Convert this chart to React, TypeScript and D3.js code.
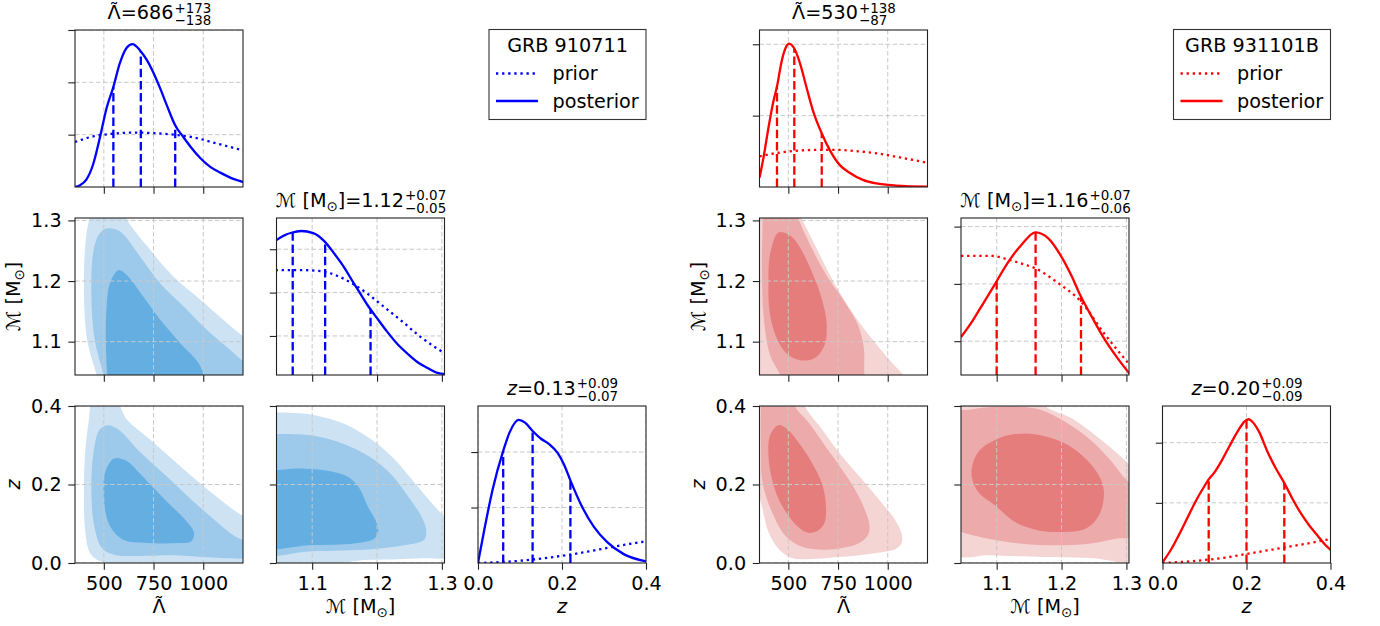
import { useEffect, useRef } from "react";
import * as d3 from "d3";

type Pt = [number, number];

// axes
const lambdaTicks = [500, 750, 1000];
const mcTicks = [1.1, 1.2, 1.3];
const zTicks = [0.0, 0.2, 0.4];
const lambdaRange: Pt = [355, 1200];
const mcRange: Pt = [1.045, 1.304];
const zRange: Pt = [0, 0.4];

// ---------- GRB 910711 (blue) ----------
const blueLambdaPost: Pt[] = [
  [353, 0], [378, 0.03], [412, 0.14], [446, 0.43], [480, 0.94], [514, 1.51], [547, 1.9],
  [581, 2.37], [615, 2.66], [644, 2.73], [682, 2.61], [716, 2.43], [750, 2.18], [784, 1.88],
  [818, 1.55], [860, 1.17], [899, 0.96], [936, 0.77], [986, 0.55], [1037, 0.38], [1088, 0.27],
  [1155, 0.15], [1206, 0.09],
];
const blueLambdaPrior: Pt[] = [
  [355, 0.86], [450, 0.97], [550, 1.02], [650, 1.04], [750, 1.03], [850, 1.0], [950, 0.95],
  [1050, 0.85], [1200, 0.7],
];
const blueLambdaQ = [548, 686, 859];
const blueLambdaYTicks = [1, 2, 3];
const blueLambdaYMax = 3.0;
const blueLambdaTitle = ["686", "+173", "\u2212138"];

const blueMcPost: Pt[] = [
  [1.0435, 3.1], [1.06, 3.24], [1.068, 3.28], [1.083, 3.32], [1.1016, 3.27], [1.119, 3.08],
  [1.133, 2.82], [1.148, 2.51], [1.164, 2.12], [1.174, 1.88], [1.185, 1.62], [1.2, 1.31],
  [1.2155, 1.0], [1.231, 0.72], [1.247, 0.49], [1.262, 0.3], [1.278, 0.16], [1.293, 0.05],
  [1.305, 0.02],
];
const blueMcPrior: Pt[] = [
  [1.0435, 2.42], [1.08, 2.42], [1.11, 2.4], [1.133, 2.32], [1.164, 2.09], [1.184, 1.89],
  [1.21, 1.58], [1.236, 1.27], [1.267, 0.88], [1.305, 0.49],
];
const blueMcQ = [1.07, 1.12, 1.19];
const blueMcYTicks = [0.9, 1.9, 2.9];
const blueMcYMax = 3.62;
const blueMcTitle = ["1.12", "+0.07", "\u22120.05"];

const blueZPost: Pt[] = [
  [0, 0], [0.015, 0.6], [0.035, 1.33], [0.06, 2.02], [0.075, 2.35], [0.097, 2.58], [0.112, 2.53],
  [0.13, 2.38], [0.15, 2.24], [0.17, 2.14], [0.19, 1.98], [0.205, 1.77], [0.221, 1.47],
  [0.246, 1.04], [0.276, 0.65], [0.307, 0.38], [0.347, 0.16], [0.4, 0.03],
];
const blueZPrior: Pt[] = [
  [0, 0], [0.05, 0.015], [0.1, 0.04], [0.15, 0.08], [0.2, 0.13], [0.25, 0.19], [0.3, 0.26],
  [0.35, 0.33], [0.4, 0.39],
];
const blueZQ = [0.06, 0.13, 0.22];
const blueZYTicks = [1, 2];
const blueZYMax = 2.83;
const blueZTitle = ["0.13", "+0.09", "\u22120.07"];

// 2D credible regions, outer / middle / inner
const blueLamMcOuter: Pt[] = [
  [497, 1.009], [463, 1.046], [416, 1.103], [400, 1.185], [409, 1.268], [426, 1.302], [446, 1.329],
  [581, 1.329], [615, 1.302], [733, 1.2515], [851, 1.207], [986, 1.169], [1122, 1.13],
  [1203, 1.108], [1324, 1.075], [1324, 1.009],
];
const blueLamMcMid: Pt[] = [
  [515, 1.009], [497, 1.046], [454, 1.103], [437, 1.185], [449, 1.2515], [480, 1.279], [522, 1.287],
  [581, 1.282], [682, 1.2405], [784, 1.196], [902, 1.158], [1020, 1.119], [1138, 1.086],
  [1203, 1.067], [1324, 1.042], [1324, 1.009],
];
const blueLamMcInner: Pt[] = [
  [525, 1.009], [517, 1.046], [510, 1.103], [514, 1.158], [530, 1.196], [573, 1.218], [615, 1.21],
  [699, 1.174], [784, 1.136], [885, 1.097], [986, 1.059], [1012, 1.009],
];
const blueLamZOuter: Pt[] = [
  [490, 0.0034], [431, 0.0255], [406, 0.085], [400, 0.17], [406, 0.281], [423, 0.357], [448, 0.417],
  [552, 0.421], [615, 0.366], [741, 0.311], [866, 0.255], [992, 0.2], [1117, 0.149], [1190, 0.123],
  [1326, 0.094], [1326, 0.0026],
];
const blueLamZMid: Pt[] = [
  [552, 0.0213], [490, 0.0383], [452, 0.0936], [437, 0.187], [448, 0.281], [479, 0.34], [521, 0.351],
  [573, 0.34], [678, 0.285], [824, 0.217], [950, 0.157], [1075, 0.102], [1159, 0.068],
  [1285, 0.038], [1285, 0.0187], [824, 0.0196],
];
const blueLamZInner: Pt[] = [
  [552, 0.266], [506, 0.23], [502, 0.153], [531, 0.094], [594, 0.06], [720, 0.051], [866, 0.051],
  [939, 0.055], [954, 0.077], [908, 0.111], [824, 0.153], [741, 0.196], [678, 0.23], [615, 0.26],
];
const blueMcZOuter: Pt[] = [
  [1.008, 0.39], [1.0354, 0.385], [1.1, 0.378], [1.1491, 0.355], [1.1904, 0.316], [1.2266, 0.265],
  [1.2576, 0.205], [1.2835, 0.154], [1.3052, 0.115], [1.325, 0.077], [1.325, 0.02], [1.268, 0.012],
  [1.19, 0.008], [1.008, 0.006],
];
const blueMcZMid: Pt[] = [
  [1.008, 0.33], [1.0354, 0.329], [1.1, 0.325], [1.1491, 0.3035], [1.1904, 0.269], [1.2214, 0.2266],
  [1.2473, 0.171], [1.268, 0.12], [1.2757, 0.0855], [1.2731, 0.06], [1.2421, 0.045], [1.1904, 0.035],
  [1.1, 0.03], [1.008, 0.03],
];
const blueMcZInner: Pt[] = [
  [1.008, 0.236], [1.0354, 0.235], [1.0767, 0.241], [1.1233, 0.235], [1.1543, 0.2206],
  [1.1724, 0.192], [1.1853, 0.145], [1.1982, 0.107], [1.2018, 0.081], [1.1956, 0.062],
  [1.1646, 0.05], [1.1, 0.046], [1.008, 0.046],
];

// ---------- GRB 931101B (red) ----------
const redLambdaPost: Pt[] = [
  [355, 0.13], [375, 0.41], [400, 0.83], [425, 1.2], [443, 1.41], [467, 1.77], [492, 1.98],
  [503, 2.01], [532, 1.93], [558, 1.74], [592, 1.39], [625, 1.06], [670, 0.74], [708, 0.52],
  [758, 0.31], [808, 0.2], [875, 0.1], [942, 0.05], [1042, 0.02], [1197, 0.005],
];
const redLambdaPrior: Pt[] = [
  [355, 0.43], [450, 0.48], [550, 0.51], [650, 0.52], [750, 0.52], [850, 0.5], [950, 0.47],
  [1050, 0.42], [1200, 0.34],
];
const redLambdaQ = [443, 530, 668];
const redLambdaYTicks = [1, 2];
const redLambdaYMax = 2.2;
const redLambdaTitle = ["530", "+138", "\u221287"];

const redMcPost: Pt[] = [
  [1.045, 0.66], [1.062, 0.93], [1.075, 1.17], [1.096, 1.56], [1.116, 1.94], [1.138, 2.27],
  [1.16, 2.49], [1.18, 2.38], [1.199, 2.08], [1.215, 1.74], [1.2285, 1.4], [1.245, 1.05],
  [1.2655, 0.64], [1.286, 0.3], [1.305, 0.02],
];
const redMcPrior: Pt[] = [
  [1.045, 2.08], [1.091, 2.08], [1.116, 2.02], [1.142, 1.93], [1.16, 1.86], [1.194, 1.61],
  [1.23, 1.28], [1.266, 0.72], [1.302, 0.22],
];
const redMcQ = [1.1, 1.16, 1.23];
const redMcYTicks = [0.59, 1.59, 2.59];
const redMcYMax = 2.74;
const redMcTitle = ["1.16", "+0.07", "\u22120.06"];

const redZPost: Pt[] = [
  [0, 0.01], [0.02, 0.22], [0.04, 0.48], [0.06, 0.76], [0.08, 1.04], [0.1, 1.28], [0.11, 1.39],
  [0.125, 1.52], [0.14, 1.69], [0.16, 1.95], [0.18, 2.2], [0.195, 2.35], [0.205, 2.39],
  [0.215, 2.34], [0.23, 2.18], [0.25, 1.85], [0.27, 1.57], [0.29, 1.33], [0.31, 1.06],
  [0.33, 0.82], [0.35, 0.62], [0.37, 0.45], [0.385, 0.32], [0.4, 0.22],
];
const redZPrior: Pt[] = [
  [0, 0], [0.05, 0.02], [0.1, 0.05], [0.15, 0.09], [0.2, 0.15], [0.25, 0.21], [0.3, 0.27],
  [0.35, 0.33], [0.4, 0.4],
];
const redZQ = [0.11, 0.2, 0.29];
const redZYTicks = [1, 2];
const redZYMax = 2.61;
const redZTitle = ["0.20", "+0.09", "\u22120.09"];

const redLamMcOuter: Pt[] = [
  [283, 1.326], [533, 1.326], [567, 1.303], [633, 1.26], [717, 1.205], [817, 1.15], [917, 1.106],
  [1017, 1.067], [1075, 1.046], [1117, 1.023], [283, 1.023],
];
const redLamMcMid: Pt[] = [
  [367, 1.326], [525, 1.326], [550, 1.303], [617, 1.255], [700, 1.205], [783, 1.166], [850, 1.128],
  [880, 1.089], [883, 1.046], [900, 1.023], [483, 1.023], [458, 1.046], [408, 1.078], [375, 1.144],
  [367, 1.227], [370, 1.303],
];
const redLamMcInner: Pt[] = [
  [450, 1.28], [500, 1.277], [550, 1.26], [617, 1.216], [667, 1.172], [692, 1.133], [683, 1.095],
  [633, 1.073], [567, 1.069], [500, 1.078], [450, 1.1], [408, 1.144], [400, 1.2], [408, 1.244],
];
const redLamZOuter: Pt[] = [
  [300, 0.4355], [567, 0.4355], [583, 0.4], [667, 0.342], [767, 0.274], [867, 0.215], [967, 0.155],
  [1033, 0.113], [1067, 0.079], [1072, 0.0535], [1042, 0.0365], [917, 0.0238], [750, 0.0153],
  [583, 0.0093], [517, 0.0127], [450, 0.0365], [400, 0.079], [370, 0.138], [342, 0.198],
  [300, 0.283],
];
const redLamZMid: Pt[] = [
  [367, 0.4355], [525, 0.4355], [533, 0.4], [600, 0.359], [683, 0.3], [767, 0.24], [833, 0.189],
  [883, 0.138], [908, 0.096], [900, 0.0705], [850, 0.049], [750, 0.0365], [633, 0.0348],
  [550, 0.045], [483, 0.0705], [433, 0.113], [392, 0.164], [367, 0.215], [363, 0.283], [363, 0.4],
];
const redLamZInner: Pt[] = [
  [450, 0.351], [492, 0.342], [550, 0.308], [617, 0.257], [667, 0.206], [688, 0.155], [683, 0.104],
  [650, 0.083], [600, 0.077], [550, 0.092], [500, 0.121], [450, 0.164], [417, 0.215], [400, 0.274],
  [408, 0.325],
];
const redMcZOuter: Pt[] = [
  [1.0354, 0.4355], [1.1646, 0.4355], [1.175, 0.4], [1.2163, 0.368], [1.2525, 0.325],
  [1.2835, 0.283], [1.303, 0.253], [1.325, 0.215], [1.325, 0.011], [1.242, 0.0127],
  [1.139, 0.017], [1.087, 0.0195], [1.0354, 0.0238],
];
const redMcZMid: Pt[] = [
  [1.0354, 0.38], [1.0612, 0.391], [1.0974, 0.398], [1.1388, 0.398], [1.1698, 0.389],
  [1.206, 0.359], [1.2421, 0.317], [1.2731, 0.266], [1.2938, 0.223], [1.3145, 0.181],
  [1.3145, 0.0705], [1.2835, 0.062], [1.2421, 0.049], [1.1904, 0.045], [1.1388, 0.049],
  [1.0871, 0.062], [1.0457, 0.079], [1.0354, 0.0875],
];
const redMcZInner: Pt[] = [
  [1.0612, 0.2275], [1.0716, 0.283], [1.1026, 0.317], [1.1284, 0.3285], [1.1594, 0.328],
  [1.2008, 0.308], [1.2318, 0.274], [1.2576, 0.223], [1.2654, 0.181], [1.2576, 0.121],
  [1.237, 0.0874], [1.2008, 0.079], [1.1646, 0.083], [1.1284, 0.1045], [1.0974, 0.147],
  [1.0716, 0.181],
];

const blueFills = ["#cde3f4", "#9dcaeb", "#64aee2"];
const redFills = ["#f5d4d4", "#edaaaa", "#e67d7d"];

// layout
const FONT = "'DejaVu Sans', sans-serif";
const FS = 19.2;
const W = 168;
const H = 157;
const COL = 201.5;
const ROW = 188;
const TOP = 30;
const TICK = 6.7;

let clipCount = 0;

type Sel = d3.Selection<any, unknown, null, undefined>;

function interp(pts: Pt[], x: number) {
  const i = d3.bisector((d: Pt) => d[0]).left(pts, x);
  if (i <= 0) return pts[0][1];
  if (i >= pts.length) return pts[pts.length - 1][1];
  const [x0, y0] = pts[i - 1];
  const [x1, y1] = pts[i];
  return y0 + ((y1 - y0) * (x - x0)) / (x1 - x0);
}

function makePanel(root: Sel, px: number, py: number, xDom: Pt, yDom: Pt) {
  const g = root.append("g").attr("transform", `translate(${px},${py})`);
  const x = d3.scaleLinear().domain(xDom).range([0, W]);
  const y = d3.scaleLinear().domain(yDom).range([H, 0]);
  const id = `clip${clipCount++}`;
  g.append("clipPath").attr("id", id).append("rect").attr("width", W).attr("height", H);
  return { g, x, y, id };
}

type Panel = ReturnType<typeof makePanel>;

function drawGrid(p: Panel, xt: number[], yt: number[]) {
  const grid = p.g
    .append("g")
    .attr("clip-path", `url(#${p.id})`)
    .attr("stroke", "#c8c8c8")
    .attr("stroke-width", 1)
    .attr("stroke-dasharray", "4.5,2.5");
  xt.forEach((t) =>
    grid.append("line").attr("x1", p.x(t)).attr("x2", p.x(t)).attr("y1", 0).attr("y2", H)
  );
  yt.forEach((t) =>
    grid.append("line").attr("y1", p.y(t)).attr("y2", p.y(t)).attr("x1", 0).attr("x2", W)
  );
}

function drawAxes(p: Panel, xt: number[], yt: number[], xFmt: string | null, yFmt: string | null) {
  const bx = p.g
    .append("g")
    .attr("transform", `translate(0,${H})`)
    .call(
      d3
        .axisBottom(p.x)
        .tickValues(xt)
        .tickSize(TICK)
        .tickPadding(TICK)
        .tickFormat((d) => (xFmt ? d3.format(xFmt)(d as number) : ""))
    );
  const ly = p.g.append("g").call(
    d3
      .axisLeft(p.y)
      .tickValues(yt)
      .tickSize(TICK)
      .tickPadding(TICK)
      .tickFormat((d) => (yFmt ? d3.format(yFmt)(d as number) : ""))
  );
  [bx, ly].forEach((a) => {
    a.select(".domain").remove();
    a.attr("font-size", FS).attr("font-family", FONT);
    a.selectAll("line").attr("stroke", "#222").attr("stroke-width", 1.1);
    a.selectAll("text").attr("fill", "#000");
  });
  p.g
    .append("rect")
    .attr("width", W)
    .attr("height", H)
    .attr("fill", "none")
    .attr("stroke", "#222")
    .attr("stroke-width", 1.1);
}

// writes the symbol; returns the dx/dy the next tspan needs to get back on the baseline
function labelText(t: Sel, kind: string): [string, string] {
  if (kind === "lam") {
    t.append("tspan").text("\u039b");
    t.append("tspan").attr("dx", "-0.6em").attr("dy", "-0.12em").text("\u02dc");
    return ["0.1em", "0.12em"];
  }
  if (kind === "mc") {
    t.append("tspan").text("\u2133 [M");
    t.append("tspan").attr("font-size", FS * 0.7).attr("dy", 4).text("\u2299");
    t.append("tspan").attr("dy", -4).text("]");
  }
  if (kind === "z") t.append("tspan").attr("font-style", "italic").text("z");
  return ["0", "0"];
}

function addTitle(root: Sel, cx: number, by: number, kind: string, vals: string[]) {
  const t = root.append("text").attr("y", by).attr("font-size", FS).attr("font-family", FONT);
  const [dx, dy] = labelText(t, kind);
  t.append("tspan").attr("dx", dx).attr("dy", dy).text("=" + vals[0]);
  const bb = (t.node() as SVGTextElement).getBBox();
  const mainW = bb.x + bb.width;
  const sup = root
    .append("text")
    .attr("y", by - 6.5)
    .attr("font-size", FS * 0.7)
    .attr("font-family", FONT)
    .text(vals[1]);
  const sub = root
    .append("text")
    .attr("y", by + 6)
    .attr("font-size", FS * 0.7)
    .attr("font-family", FONT)
    .text(vals[2]);
  const sw = Math.max(
    (sup.node() as SVGTextElement).getComputedTextLength(),
    (sub.node() as SVGTextElement).getComputedTextLength()
  );
  const x0 = cx - (mainW + sw) / 2;
  t.attr("x", x0);
  sup.attr("x", x0 + mainW + 1);
  sub.attr("x", x0 + mainW + 1);
}

function draw1D(
  root: Sel,
  px: number,
  py: number,
  xDom: Pt,
  xt: number[],
  post: Pt[],
  prior: Pt[],
  q: number[],
  yTicks: number[],
  yMax: number,
  color: string,
  xFmt: string | null
) {
  const p = makePanel(root, px, py, xDom, [0, yMax]);
  drawGrid(p, xt, yTicks);
  const body = p.g.append("g").attr("clip-path", `url(#${p.id})`);
  const line = d3
    .line<Pt>()
    .x((d) => p.x(d[0]))
    .y((d) => p.y(d[1]))
    .curve(d3.curveMonotoneX);
  body
    .append("path")
    .attr("d", line(prior))
    .attr("fill", "none")
    .attr("stroke", color)
    .attr("stroke-width", 2.3)
    .attr("stroke-dasharray", "2.3,3.8");
  body
    .append("path")
    .attr("d", line(post))
    .attr("fill", "none")
    .attr("stroke", color)
    .attr("stroke-width", 2.3);
  q.forEach((v) =>
    body
      .append("line")
      .attr("x1", p.x(v))
      .attr("x2", p.x(v))
      .attr("y1", H)
      .attr("y2", p.y(interp(post, v)))
      .attr("stroke", color)
      .attr("stroke-width", 2.3)
      .attr("stroke-dasharray", "8.5,3.7")
  );
  drawAxes(p, xt, yTicks, xFmt, null);
  return p;
}

function draw2D(
  root: Sel,
  px: number,
  py: number,
  xDom: Pt,
  yDom: Pt,
  xt: number[],
  yt: number[],
  regions: Pt[][],
  fills: string[],
  xFmt: string | null,
  yFmt: string | null
) {
  const p = makePanel(root, px, py, xDom, yDom);
  const body = p.g.append("g").attr("clip-path", `url(#${p.id})`);
  const shape = d3
    .line<Pt>()
    .x((d) => p.x(d[0]))
    .y((d) => p.y(d[1]))
    .curve(d3.curveCatmullRomClosed.alpha(0.5));
  regions.forEach((r, i) => body.append("path").attr("d", shape(r)).attr("fill", fills[i]));
  drawGrid(p, xt, yt);
  drawAxes(p, xt, yt, xFmt, yFmt);
  return p;
}

function xLabel(root: Sel, cx: number, by: number, kind: string) {
  const t = root
    .append("text")
    .attr("x", cx)
    .attr("y", by)
    .attr("text-anchor", "middle")
    .attr("font-size", FS)
    .attr("font-family", FONT);
  labelText(t, kind);
}

function yLabel(root: Sel, bx: number, cy: number, kind: string) {
  const t = root
    .append("text")
    .attr("transform", `translate(${bx},${cy}) rotate(-90)`)
    .attr("text-anchor", "middle")
    .attr("font-size", FS)
    .attr("font-family", FONT);
  labelText(t, kind);
}

function legend(root: Sel, right: number, top: number, title: string, color: string) {
  const w = 157;
  const h = 90;
  const g = root.append("g").attr("transform", `translate(${right - w},${top})`);
  g.append("rect")
    .attr("width", w)
    .attr("height", h)
    .attr("fill", "#fff")
    .attr("stroke", "#333")
    .attr("stroke-width", 1.1);
  g.append("text")
    .attr("x", w / 2)
    .attr("y", 22)
    .attr("text-anchor", "middle")
    .attr("font-size", FS)
    .attr("font-family", FONT)
    .text(title);
  const rows = [
    { label: "prior", dash: "2.3,3.8", y: 44 },
    { label: "posterior", dash: null, y: 71.5 },
  ];
  rows.forEach((r) => {
    g.append("line")
      .attr("x1", 7)
      .attr("x2", 49)
      .attr("y1", r.y)
      .attr("y2", r.y)
      .attr("stroke", color)
      .attr("stroke-width", 2.3)
      .attr("stroke-dasharray", r.dash);
    g.append("text")
      .attr("x", 63.5)
      .attr("y", r.y + 6.8)
      .attr("font-size", FS)
      .attr("font-family", FONT)
      .text(r.label);
  });
}

type CornerSpec = {
  x0: number;
  color: string;
  fills: string[];
  grb: string;
  lam: [Pt[], Pt[], number[], number[], number, string[]];
  mc: [Pt[], Pt[], number[], number[], number, string[]];
  z: [Pt[], Pt[], number[], number[], number, string[]];
  lamMc: Pt[][];
  lamZ: Pt[][];
  mcZ: Pt[][];
};

function drawCorner(root: Sel, s: CornerSpec) {
  const cx = (c: number) => s.x0 + c * COL;
  const ry = (r: number) => TOP + r * ROW;

  // diagonal
  draw1D(root, cx(0), ry(0), lambdaRange, lambdaTicks, s.lam[0], s.lam[1], s.lam[2], s.lam[3], s.lam[4], s.color, null);
  addTitle(root, cx(0) + W / 2, ry(0) - 11, "lam", s.lam[5]);
  draw1D(root, cx(1), ry(1), mcRange, mcTicks, s.mc[0], s.mc[1], s.mc[2], s.mc[3], s.mc[4], s.color, null);
  addTitle(root, cx(1) + W / 2, ry(1) - 11.5, "mc", s.mc[5]);
  draw1D(root, cx(2), ry(2), zRange, zTicks, s.z[0], s.z[1], s.z[2], s.z[3], s.z[4], s.color, ".1f");
  addTitle(root, cx(2) + W / 2, ry(2) - 11.5, "z", s.z[5]);

  // off-diagonal
  draw2D(root, cx(0), ry(1), lambdaRange, mcRange, lambdaTicks, mcTicks, s.lamMc, s.fills, null, ".1f");
  draw2D(root, cx(0), ry(2), lambdaRange, zRange, lambdaTicks, zTicks, s.lamZ, s.fills, "d", ".1f");
  draw2D(root, cx(1), ry(2), mcRange, zRange, mcTicks, zTicks, s.mcZ, s.fills, ".1f", null);

  // axis labels
  const base = ry(2) + H + 50;
  xLabel(root, cx(0) + W / 2, base, "lam");
  xLabel(root, cx(1) + W / 2, base, "mc");
  xLabel(root, cx(2) + W / 2, base, "z");
  yLabel(root, s.x0 - 55, ry(1) + H / 2, "mc");
  yLabel(root, s.x0 - 55, ry(2) + H / 2, "z");

  legend(root, cx(2) + W, TOP - 0.5, s.grb, s.color);
}

export default function App() {
  const ref = useRef<SVGSVGElement>(null);

  useEffect(() => {
    if (!ref.current) return;
    const root = d3.select(ref.current);
    root.selectAll("*").remove();
    clipCount = 0;

    drawCorner(root as Sel, {
      x0: 75,
      color: "#0000ff",
      fills: blueFills,
      grb: "GRB 910711",
      lam: [blueLambdaPost, blueLambdaPrior, blueLambdaQ, blueLambdaYTicks, blueLambdaYMax, blueLambdaTitle],
      mc: [blueMcPost, blueMcPrior, blueMcQ, blueMcYTicks, blueMcYMax, blueMcTitle],
      z: [blueZPost, blueZPrior, blueZQ, blueZYTicks, blueZYMax, blueZTitle],
      lamMc: [blueLamMcOuter, blueLamMcMid, blueLamMcInner],
      lamZ: [blueLamZOuter, blueLamZMid, blueLamZInner],
      mcZ: [blueMcZOuter, blueMcZMid, blueMcZInner],
    });
    drawCorner(root as Sel, {
      x0: 759.5,
      color: "#ff0000",
      fills: redFills,
      grb: "GRB 931101B",
      lam: [redLambdaPost, redLambdaPrior, redLambdaQ, redLambdaYTicks, redLambdaYMax, redLambdaTitle],
      mc: [redMcPost, redMcPrior, redMcQ, redMcYTicks, redMcYMax, redMcTitle],
      z: [redZPost, redZPrior, redZQ, redZYTicks, redZYMax, redZTitle],
      lamMc: [redLamMcOuter, redLamMcMid, redLamMcInner],
      lamZ: [redLamZOuter, redLamZMid, redLamZInner],
      mcZ: [redMcZOuter, redMcZMid, redMcZInner],
    });
  }, []);

  return (
    <svg
      ref={ref}
      width={1380}
      height={626}
      style={{ position: "absolute", left: 0, top: 0, background: "#fff" }}
    />
  );
}
